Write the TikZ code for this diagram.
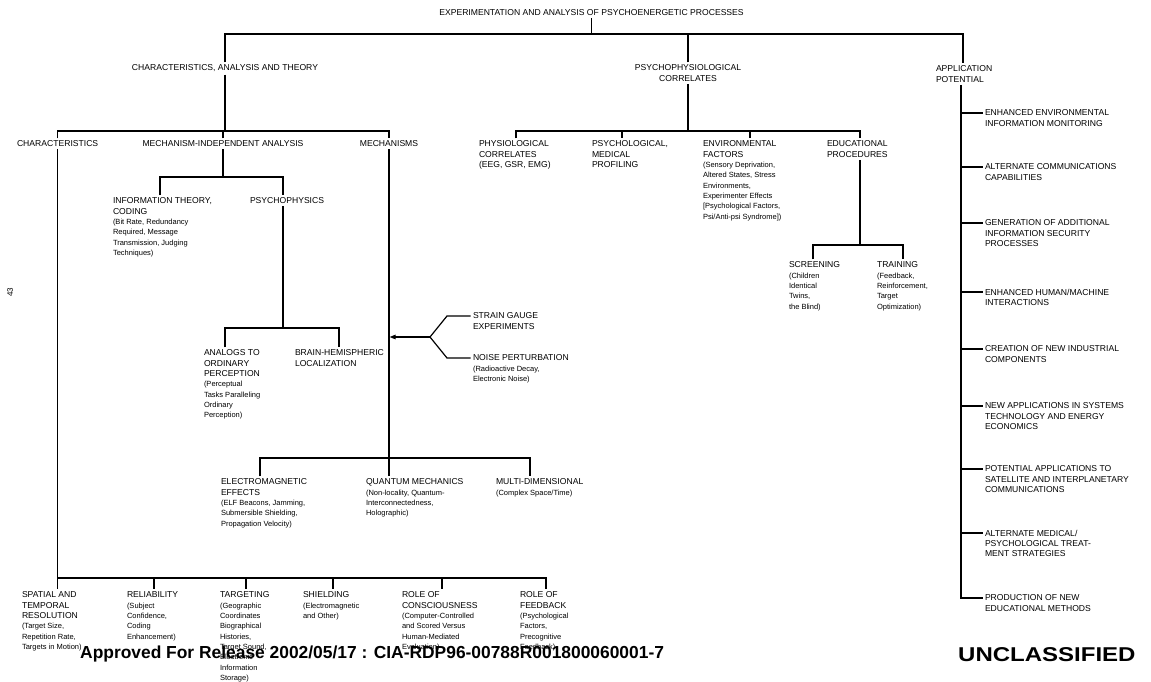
\documentclass[tikz,border=0pt]{standalone}
\usepackage{fontspec}
\setmainfont{Liberation Sans}
\newfontfamily\stretchbold{Liberation Sans}[FakeStretch=1.2]
\usetikzlibrary{arrows.meta}
\newcommand\capf{\fontsize{8.6}{10.3}\selectfont}
\newcommand\nt{\fontsize{7.5}{10.3}\selectfont}
\tikzset{
  base/.style={inner sep=0pt, outer sep=2.5pt, yshift=5.6pt, font=\capf},
  lbl/.style={base, anchor=north west, xshift=-2.5pt, align=left},
  lblc/.style={base, anchor=north, align=center},
  conn/.style={line width=1.2pt, line join=miter}
}
\begin{document}
\begin{tikzpicture}[x=1pt,y=-1pt]
\useasboundingbox (0,0) rectangle (1151,681);
\fill[white] (0,0) rectangle (1151,681);

% ---------- top level ----------
\node[inner sep=0pt, outer sep=2pt, font=\capf] (title) at (591.5,13) {EXPERIMENTATION AND ANALYSIS OF PSYCHOENERGETIC PROCESSES};
\node[lblc] (cat) at (225,68) {CHARACTERISTICS, ANALYSIS AND THEORY};
\node[lblc] (ppc) at (688,68) {PSYCHOPHYSIOLOGICAL\\CORRELATES};
\node[lbl] (app) at (936,69) {APPLICATION\\POTENTIAL};
\coordinate (top) at (591.5,34);
\coordinate (topR) at (963,34);
\draw[conn] (title.south) -- (top);
\draw[conn] (cat.north) |- (topR) -- (topR |- app.north);
\draw[conn] (ppc.north) -- (ppc.north |- top);

% ---------- left branch ----------
\node[lbl] (chr) at (17,144) {CHARACTERISTICS};
\node[lblc] (mia) at (223,144) {MECHANISM-INDEPENDENT ANALYSIS};
\node[lblc] (mech) at (389,144) {MECHANISMS};
\coordinate (lb) at (0,131);
\draw[conn] (cat.south) -- (cat.south |- lb);
\draw[conn] (chr.north) |- (mech.north |- lb) -- (mech.north);
\draw[conn] (mia.north) -- (mia.north |- lb);

\node[lbl] (info) at (113,201) {INFORMATION THEORY,\\CODING\\\nt (Bit Rate, Redundancy\\\nt Required, Message\\\nt Transmission, Judging\\\nt Techniques)};
\node[lbl] (psy) at (250,201) {PSYCHOPHYSICS};
\coordinate (mb1) at (160,177);
\coordinate (mb2) at (283,177);
\draw[conn] (mia.south) -- (mia.south |- mb1);
\draw[conn] (mb1 |- info.north) -- (mb1) -- (mb2) -- (mb2 |- psy.north);

\node[lbl] (ana) at (204,353) {ANALOGS TO\\ORDINARY\\PERCEPTION\\\nt (Perceptual\\\nt Tasks Paralleling\\\nt Ordinary\\\nt Perception)};
\node[lbl] (brn) at (295,353) {BRAIN-HEMISPHERIC\\LOCALIZATION};
\coordinate (pb1) at (225,328);
\coordinate (pb2) at (339,328);
\draw[conn] (mb2 |- psy.south) -- (mb2 |- pb1);
\draw[conn] (pb1 |- ana.north) -- (pb1) -- (pb2) -- (pb2 |- brn.north);

% strain gauge / noise
\node[lbl] (sg) at (473,316) {STRAIN GAUGE\\EXPERIMENTS};
\node[lbl] (np) at (473,358) {NOISE PERTURBATION\\\nt (Radioactive Decay,\\\nt Electronic Noise)};
\coordinate (fork) at (430,337);
\coordinate (su) at (447,316);
\coordinate (sl) at (447,358);
\draw[conn] (su -| sg.west) -- (su) -- (fork) -- (sl) -- (sl -| np.west);
\draw[conn, -{Triangle[length=6pt,width=4.5pt]}, shorten >=0.6pt] (fork) -- (fork -| mech.south);

% mechanisms
\node[lbl] (em) at (221,482) {ELECTROMAGNETIC\\EFFECTS\\\nt (ELF Beacons, Jamming,\\\nt Submersible Shielding,\\\nt Propagation Velocity)};
\node[lbl] (qm) at (366,482) {QUANTUM MECHANICS\\\nt (Non-locality, Quantum-\\\nt Interconnectedness,\\\nt Holographic)};
\node[lbl] (md) at (496,482) {MULTI-DIMENSIONAL\\\nt (Complex Space/Time)};
\coordinate (eb1) at (260,458);
\coordinate (eb2) at (530,458);
\draw[conn] (mech.south) -- (mech.south |- qm.north);
\draw[conn] (eb1 |- em.north) -- (eb1) -- (eb2) -- (eb2 |- md.north);

% bottom row
\node[lbl] (spt) at (22,595) {SPATIAL AND\\TEMPORAL\\RESOLUTION\\\nt (Target Size,\\\nt Repetition Rate,\\\nt Targets in Motion)};
\node[lbl] (rel) at (127,595) {RELIABILITY\\\nt (Subject\\\nt Confidence,\\\nt Coding\\\nt Enhancement)};
\node[lbl] (tar) at (220,595) {TARGETING\\\nt (Geographic\\\nt Coordinates\\\nt Biographical\\\nt Histories,\\\nt Target Sound,\\\nt Electronic\\\nt Information\\\nt Storage)};
\node[lbl] (shl) at (303,595) {SHIELDING\\\nt (Electromagnetic\\\nt and Other)};
\node[lbl] (roc) at (402,595) {ROLE OF\\CONSCIOUSNESS\\\nt (Computer-Controlled\\\nt and Scored Versus\\\nt Human-Mediated\\\nt Evaluation)};
\node[lbl] (rof) at (520,595) {ROLE OF\\FEEDBACK\\\nt (Psychological\\\nt Factors,\\\nt Precognitive\\\nt Feedback)};
\coordinate (bb) at (0,578);
\coordinate (d2) at (154,578);
\coordinate (d3) at (246,578);
\coordinate (d4) at (333,578);
\coordinate (d5) at (442,578);
\coordinate (d6) at (546,578);
\draw[conn] (chr.south) -- (chr.south |- spt.north);
\draw[conn] (chr.south |- bb) -- (d6) -- (d6 |- rof.north);
\draw[conn] (d2) -- (d2 |- rel.north);
\draw[conn] (d3) -- (d3 |- tar.north);
\draw[conn] (d4) -- (d4 |- shl.north);
\draw[conn] (d5) -- (d5 |- roc.north);

% ---------- middle branch ----------
\node[lbl] (phy) at (479,144) {PHYSIOLOGICAL\\CORRELATES\\(EEG, GSR, EMG)};
\node[lbl] (psm) at (592,144) {PSYCHOLOGICAL,\\MEDICAL\\PROFILING};
\node[lbl] (env) at (703,144) {ENVIRONMENTAL\\FACTORS\\\nt (Sensory Deprivation,\\\nt Altered States, Stress\\\nt Environments,\\\nt Experimenter Effects\\\nt [Psychological Factors,\\\nt Psi/Anti-psi Syndrome])};
\node[lbl] (edu) at (827,144) {EDUCATIONAL\\PROCEDURES};
\coordinate (cb1) at (516,131);
\coordinate (cb2) at (622,131);
\coordinate (cb3) at (750,131);
\coordinate (cb4) at (860,131);
\draw[conn] (ppc.south) -- (ppc.south |- cb1);
\draw[conn] (cb1 |- phy.north) -- (cb1) -- (cb4) -- (cb4 |- edu.north);
\draw[conn] (cb2) -- (cb2 |- psm.north);
\draw[conn] (cb3) -- (cb3 |- env.north);

\node[lbl] (scr) at (789,265) {SCREENING\\\nt (Children\\\nt Identical\\\nt Twins,\\\nt the Blind)};
\node[lbl] (trn) at (877,265) {TRAINING\\\nt (Feedback,\\\nt Reinforcement,\\\nt Target\\\nt Optimization)};
\coordinate (sb1) at (813,245);
\coordinate (sb2) at (903,245);
\draw[conn] (cb4 |- edu.south) -- (cb4 |- sb1);
\draw[conn] (sb1 |- scr.north) -- (sb1) -- (sb2) -- (sb2 |- trn.north);

% ---------- right branch ----------
\coordinate (rv) at (961,0);
\coordinate (r1) at (985,113);
\coordinate (r2) at (985,167);
\coordinate (r3) at (985,223);
\coordinate (r4) at (985,292);
\coordinate (r5) at (985,349);
\coordinate (r6) at (985,406);
\coordinate (r7) at (985,469);
\coordinate (r8) at (985,533);
\coordinate (r9) at (985,598);
\node[lbl] (n1) at (r1) {ENHANCED ENVIRONMENTAL\\INFORMATION MONITORING};
\node[lbl] (n2) at (r2) {ALTERNATE COMMUNICATIONS\\CAPABILITIES};
\node[lbl] (n3) at (r3) {GENERATION OF ADDITIONAL\\INFORMATION SECURITY\\PROCESSES};
\node[lbl] (n4) at (r4) {ENHANCED HUMAN/MACHINE\\INTERACTIONS};
\node[lbl] (n5) at (r5) {CREATION OF NEW INDUSTRIAL\\COMPONENTS};
\node[lbl] (n6) at (r6) {NEW APPLICATIONS IN SYSTEMS\\TECHNOLOGY AND ENERGY\\ECONOMICS};
\node[lbl] (n7) at (r7) {POTENTIAL APPLICATIONS TO\\SATELLITE AND INTERPLANETARY\\COMMUNICATIONS};
\node[lbl] (n8) at (r8) {ALTERNATE MEDICAL/\\PSYCHOLOGICAL TREAT-\\MENT STRATEGIES};
\node[lbl] (n9) at (r9) {PRODUCTION OF NEW\\EDUCATIONAL METHODS};
\draw[conn] (rv |- app.south) -- (rv |- r9) -- (r9 -| n9.west);
\foreach \i in {1,...,8} {\draw[conn] (rv |- r\i) -- (r\i -| n\i.west);}

% ---------- page marks ----------
\node[rotate=90, inner sep=0pt, font=\fontsize{8}{9}\selectfont] (pg) at (10,292) {43};
\node[anchor=base west, inner sep=0pt, font=\fontsize{17.4}{20}\selectfont\bfseries] (apr) at (80,658) {Approved For Release 2002/05/17 : CIA-RDP96-00788R001800060001-7};
\node[anchor=base west, inner sep=0pt, font=\stretchbold\bfseries\fontsize{20}{24}\selectfont] (uncl) at (958,661) {UNCLASSIFIED};
\end{tikzpicture}
\end{document}
